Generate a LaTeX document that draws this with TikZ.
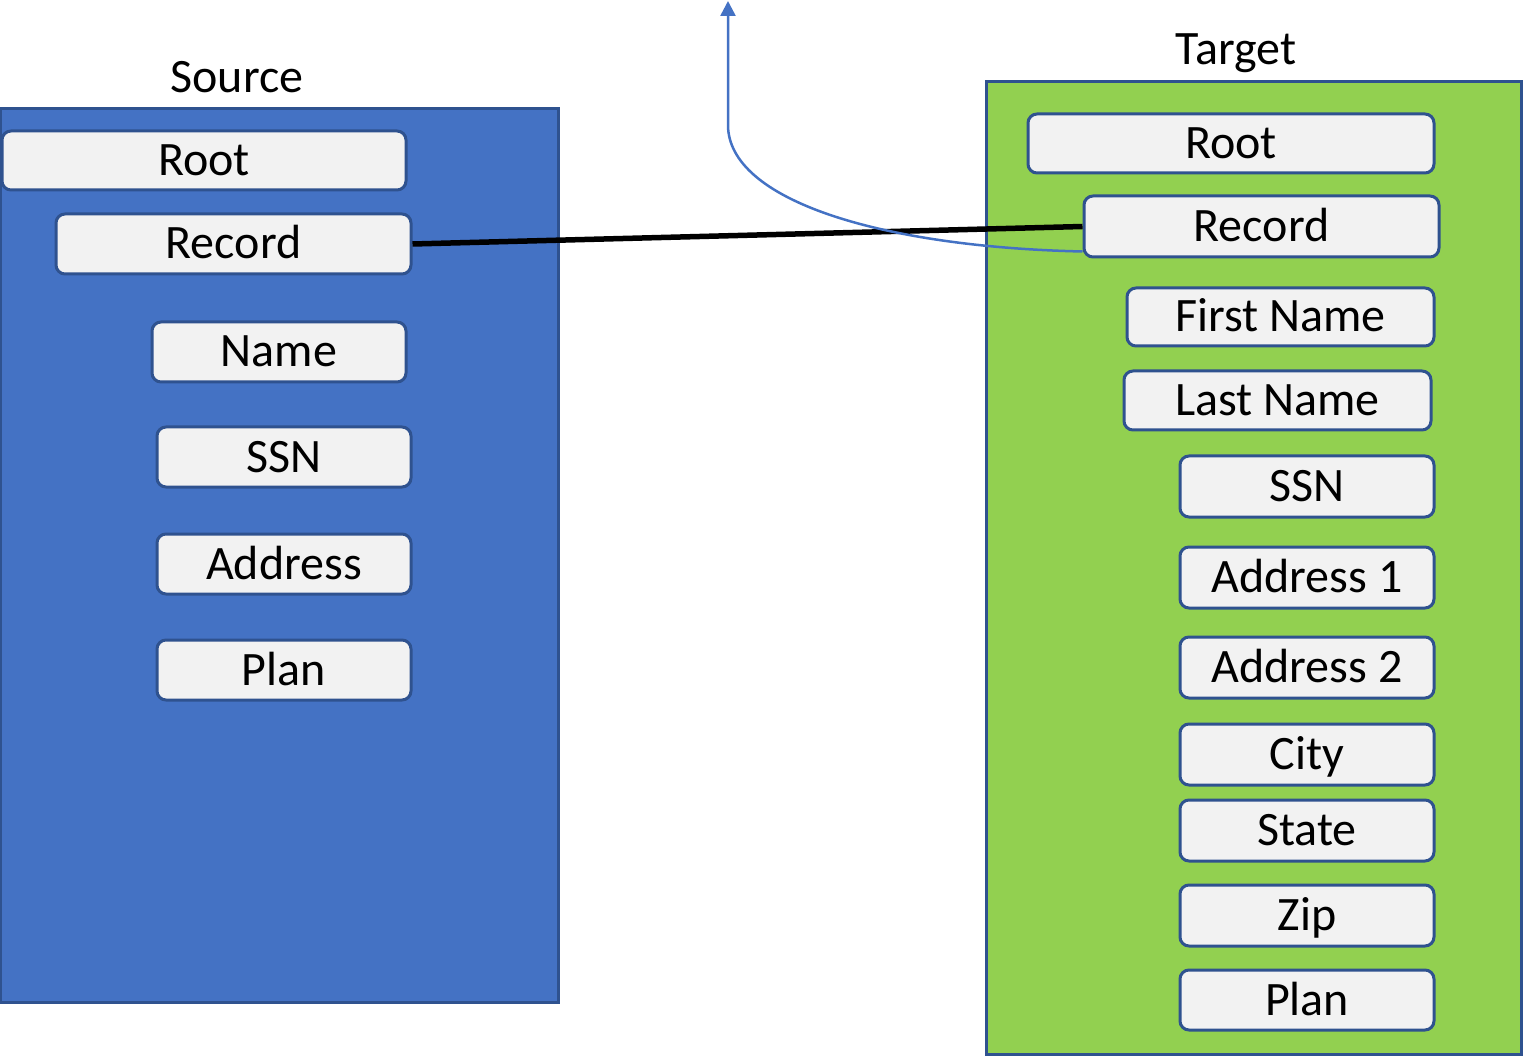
\documentclass[tikz,border=0pt]{standalone}
\usepackage{fontspec}
\setmainfont{Carlito}
\usetikzlibrary{arrows.meta}
\definecolor{srcblue}{HTML}{4472C4}
\definecolor{edgeblue}{HTML}{2F528F}
\definecolor{tgtgreen}{HTML}{92D050}
\definecolor{fieldgray}{HTML}{F2F2F2}
\tikzset{
  fld/.style={draw=edgeblue, fill=fieldgray, line width=3pt, rounded corners=9pt,
    inner sep=0pt, font=\fontsize{48}{58}\selectfont, text height=30pt, text depth=0pt},
  panel/.style={draw=edgeblue, line width=3pt},
  ttl/.style={font=\fontsize{48}{58}\selectfont, text height=30pt, text depth=0pt, inner sep=0pt}
}
\begin{document}
\begin{tikzpicture}[x=1pt,y=-1pt]
\useasboundingbox (0,0) rectangle (1524,1056);
% panels
\path[panel, fill=srcblue] (0,109) rectangle (558,1002);
\path[panel, fill=tgtgreen] (986,82) rectangle (1521,1054);
\node[ttl] (srcT) at (237,78) {Source};
\node[ttl] (tgtT) at (1236,50) {Target};
% source fields
\node[fld, minimum width=404pt, minimum height=59pt] (sRoot) at (204,160.5) {Root};
\node[fld, minimum width=355pt, minimum height=60pt] (sRec) at (233.5,244) {Record};
\node[fld, minimum width=254pt, minimum height=60pt] (sName) at (279,352) {Name};
\node[fld, minimum width=254pt, minimum height=60pt] (sSSN) at (284,457) {SSN};
\node[fld, minimum width=254pt, minimum height=60pt] (sAddr) at (284,564) {Address};
\node[fld, minimum width=254pt, minimum height=60pt] (sPlan) at (284,670) {Plan};
% target fields
\node[fld, minimum width=406pt, minimum height=59pt] (tRoot) at (1231,143.5) {Root};
\node[fld, minimum width=355pt, minimum height=61pt] (tRec) at (1261.5,226.5) {Record};
\node[fld, minimum width=307pt, minimum height=58pt] (tFirst) at (1280.5,317) {First Name};
\node[fld, minimum width=307pt, minimum height=59pt] (tLast) at (1277.5,400.5) {Last Name};
\node[fld, minimum width=254pt, minimum height=61pt] (tSSN) at (1307,486.5) {SSN};
\node[fld, minimum width=254pt, minimum height=61pt] (tA1) at (1307,577.5) {Address 1};
\node[fld, minimum width=254pt, minimum height=61pt] (tA2) at (1307,667.5) {Address 2};
\node[fld, minimum width=254pt, minimum height=61pt] (tCity) at (1307,754.5) {City};
\node[fld, minimum width=254pt, minimum height=61pt] (tState) at (1307,830.5) {State};
\node[fld, minimum width=254pt, minimum height=61pt] (tZip) at (1307,915.5) {Zip};
\node[fld, minimum width=254pt, minimum height=60pt] (tPlan) at (1307,1000) {Plan};
% connectors
\draw[line width=5.5pt] (sRec.east) -- (tRec.west);
\coordinate (up) at (728,1);
\draw[srcblue, line width=2.5pt, -{Triangle[length=15pt,width=15pt]}]
  ([yshift=7pt]tRec.south west) .. controls (880,247) and (728,200) .. (728,125) -- (up);
\end{tikzpicture}
\end{document}
